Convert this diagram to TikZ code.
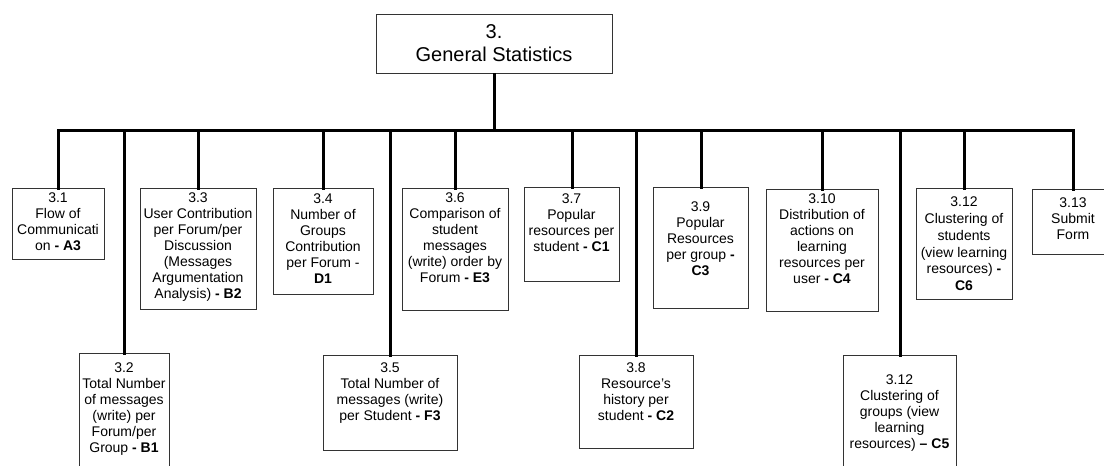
\documentclass[tikz,border=0pt]{standalone}
\usepackage{fontspec}
\setmainfont{Liberation Sans}
\begin{document}
\begin{tikzpicture}[x=1pt,y=-1pt,
  box/.style={draw=black!80, line width=1pt, inner sep=0pt, anchor=north west},
  txt/.style={anchor=north, align=center, inner sep=0pt, font=\fontsize{14}{16}\selectfont},
  toptxt/.style={anchor=north, align=center, inner sep=0pt, font=\fontsize{20}{23}\selectfont},
  conn/.style={line width=3pt, line cap=rect}]
\useasboundingbox (0,0) rectangle (1104,466);
\clip (0,0) rectangle (1104,466);
\coordinate (bus) at (0,130);
\coordinate (busL) at (58,130);
\coordinate (busR) at (1073,130);
% boxes
\node[box, minimum width=236, minimum height=59] (top) at (376,14) {};
\node[box, minimum width=92, minimum height=71] (b31) at (12,188) {};
\node[box, minimum width=116, minimum height=121] (b33) at (140,188) {};
\node[box, minimum width=100, minimum height=106] (b34) at (273,188) {};
\node[box, minimum width=106, minimum height=122] (b36) at (402,188) {};
\node[box, minimum width=95, minimum height=94] (b37) at (524,187) {};
\node[box, minimum width=95, minimum height=121] (b39) at (653,187) {};
\node[box, minimum width=112, minimum height=122] (b310) at (766,189) {};
\node[box, minimum width=96, minimum height=111] (b312) at (916,188) {};
\node[box, minimum width=82, minimum height=65] (b313) at (1032,189) {};
\node[box, minimum width=90, minimum height=130] (b32) at (79,353) {};
\node[box, minimum width=134, minimum height=95] (b35) at (323,355) {};
\node[box, minimum width=114, minimum height=93] (b38) at (579,355) {};
\node[box, minimum width=113, minimum height=130] (c5) at (843,355) {};
% texts
\node[toptxt] (ttop) at (494,24) {3.\\General Statistics};
\node[txt] (t31) at (58,193) {3.1\\Flow of\\Communicati\\on \textbf{- A3}};
\node[txt] (t33) at (198,193) {3.3\\User Contribution\\per Forum/per\\Discussion\\(Messages\\Argumentation\\Analysis) \textbf{- B2}};
\node[txt] (t34) at (323,194) {3.4\\Number of\\Groups\\Contribution\\per Forum -\\\textbf{D1}};
\node[txt] (t36) at (455,193) {3.6\\Comparison of\\student\\messages\\(write) order by\\Forum \textbf{- E3}};
\node[txt] (t37) at (571.5,194) {3.7\\Popular\\resources per\\student \textbf{- C1}};
\node[txt] (t39) at (700.5,202) {3.9\\Popular\\Resources\\per group \textbf{-}\\\textbf{C3}};
\node[txt] (t310) at (822,194) {3.10\\Distribution of\\actions on\\learning\\resources per\\user \textbf{- C4}};
\node[txt, font=\fontsize{14}{16.7}\selectfont] (t312) at (964,197) {3.12\\Clustering of\\students\\(view learning\\resources) \textbf{-}\\\textbf{C6}};
\node[txt] (t313) at (1073,198) {3.13\\Submit\\Form};
\node[txt] (t32) at (124,363) {3.2\\Total Number\\of messages\\(write) per\\Forum/per\\Group \textbf{- B1}};
\node[txt] (t35) at (390,363) {3.5\\Total Number of\\messages (write)\\per Student \textbf{- F3}};
\node[txt] (t38) at (636,363) {3.8\\Resource's\\history per\\student \textbf{- C2}};
\node[txt] (t5) at (899.5,375) {3.12\\Clustering of\\groups (view\\learning\\resources) \textbf{-- C5}};
% connectors
\draw[conn] (top.south) -- (top.south |- bus);
\draw[conn] (busL) -- (busR);
\foreach \n in {b31,b33,b34,b36,b37,b39,b310,b312,b313,b32,b35,b38,c5}
  \draw[conn] (\n.north) -- (\n.north |- bus);
\end{tikzpicture}
\end{document}
